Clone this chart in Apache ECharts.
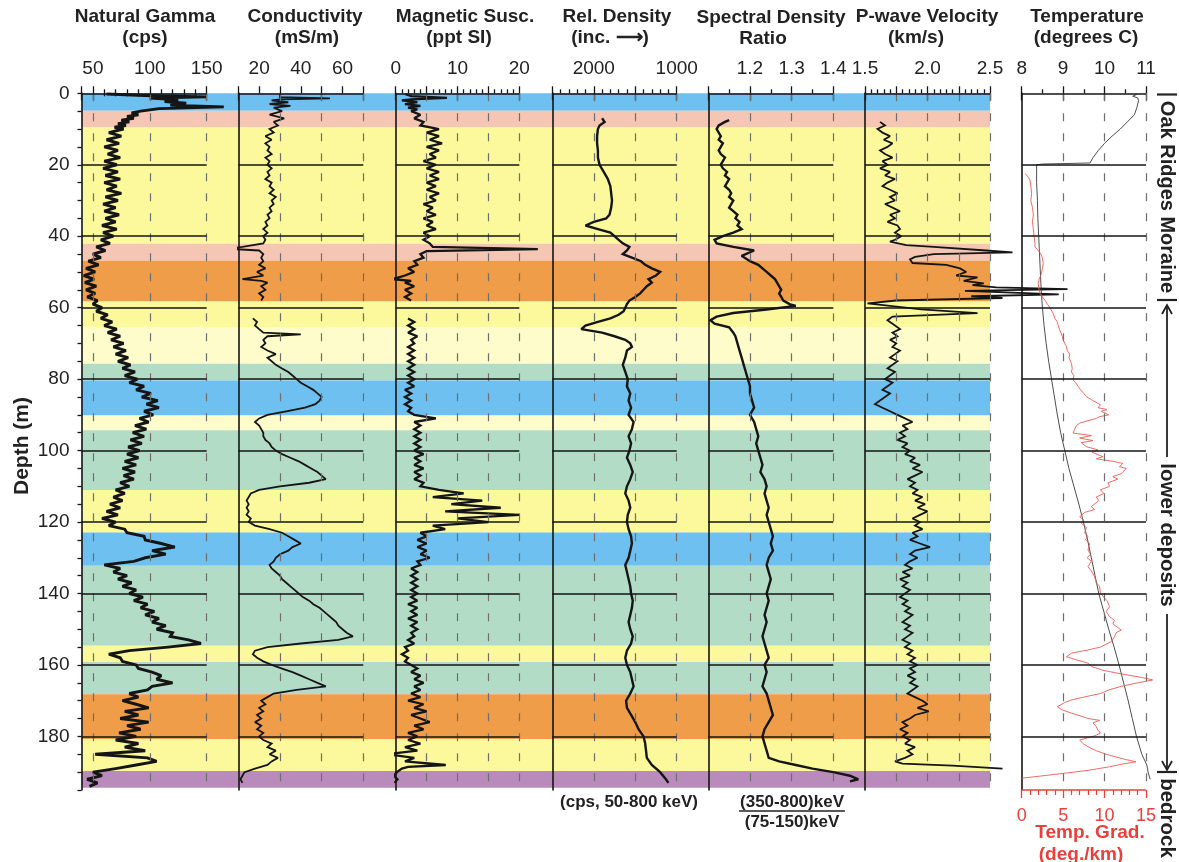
<!DOCTYPE html>
<html><head><meta charset="utf-8">
<script src="https://cdn.jsdelivr.net/npm/echarts@6/dist/echarts.min.js"></script>
<style>html,body{margin:0;padding:0;background:#fff}#c{width:1179px;height:862px}</style>
</head><body><div id="c"></div>
<script>
// ---------------- DATA (depth in m, value) ----------------
const bandFrom = [0, 4.9, 9.6, 42.1, 46.9, 58.3, 65.5, 75.7, 80.4, 90.2, 94.3, 111, 122.9, 132.2, 154.6, 159.2, 168.2, 180.7, 189.7];
const bandTo   = [4.9, 9.6, 42.1, 46.9, 58.3, 65.5, 75.7, 80.4, 90.2, 94.3, 111, 122.9, 132.2, 154.6, 159.2, 168.2, 180.7, 189.7, 194.4];
const bandKind = ['blue','pink','yellow','pink','orange','yellow','pale','green','blue','pale','green','yellow','blue','green','yellow','green','orange','yellow','purple'];

const depthLines = [20, 40, 60, 80, 100, 120, 140, 160, 180];
const depthTickVals = [0,5,10,15,20,25,30,35,40,45,50,55,60,65,70,75,80,85,90,95,100,105,110,115,120,125,130,135,140,145,150,155,160,165,170,175,180,185,190,195];
const depthLabels = [0, 20, 40, 60, 80, 100, 120, 140, 160, 180];

const gammaLabels = [50, 100, 150];
const condLabels = [20, 40, 60];
const magLabels = [0, 10, 20];
const densLabels = [2000, 1000];
const specLabels = [1.2, 1.3, 1.4];
const pwLabels = [1.5, 2.0, 2.5];
const tempLabels = [8, 9, 10, 11];
const gradLabels = [0, 5, 10, 15];

const gamma = [[0.2,62],[0.6,95],[1,150],[1.3,100],[1.8,125],[2.3,113],[2.8,132],[3.3,118],[3.8,165],[4.3,108],[5,92],[5.5,84],[6,90],[6.5,80],[7,86],[7.5,75],[8,82],[8.5,72],[9,79],[9.5,69],[10,77],[11,64],[12,75],[13,62],[14,73],[15,60],[16,72],[17,63],[18,74],[19,60],[20,71],[21,59],[22,72],[23,61],[24,74],[25,60],[26,71],[27,62],[28,75],[29,61],[30,72],[31,59],[32,70],[33,60],[34,73],[35,61],[36,70],[37,58],[38,71],[39,59],[40,68],[41,57],[42,65],[43,53],[44,61],[45,50],[46,57],[47,46],[48,55],[49,44],[50,52],[51,42],[52,51],[53,43],[54,53],[55,44],[56,52],[57,45],[58,54],[59,50],[60,58],[61,53],[62,63],[63,57],[64,67],[65,60],[66,71],[67,63],[68,74],[69,66],[70,77],[71,68],[72,79],[73,70],[74,81],[75,72],[76,83],[77,76],[78,87],[79,78],[80,89],[81,82],[82,95],[83,88],[84,101],[85,93],[86,107],[87,97],[88,108],[89,95],[90,103],[91,91],[92,99],[93,87],[94,97],[95,85],[96,95],[97,83],[98,93],[99,81],[100,91],[101,80],[102,90],[103,78],[104,88],[105,76],[106,87],[107,77],[108,86],[109,74],[110,82],[111,70],[112,78],[113,68],[114,76],[115,65],[116,74],[117,62],[118,72],[119,58],[120,70],[121,64],[122,78],[123,80],[124,95],[125,96],[126,110],[127,122],[128,102],[129,114],[130,96],[131,86],[132,60],[133,74],[134,68],[135,80],[136,72],[137,84],[138,76],[139,88],[140,82],[141,94],[142,86],[143,98],[144,92],[145,104],[146,96],[147,108],[148,102],[149,114],[150,106],[151,120],[152,118],[153,134],[154,145],[155,116],[156,82],[157,64],[158,74],[159,76],[160,88],[161,90],[162,102],[163,110],[164,106],[165,120],[166,102],[167,98],[168,82],[169,90],[170,76],[171,88],[172,99],[173,78],[174,90],[175,74],[176,99],[177,80],[178,92],[179,73],[180,88],[181,70],[182,90],[183,78],[184,96],[185,52],[186,98],[187,106],[188,88],[189,70],[190,50],[191,58],[192,45],[193,54],[194,47]];

const cond = [[0.2,30],[1.1,30],[1.4,54],[1.7,30],[2,26],[2.5,34],[3,25],[3.5,35],[4,27],[5,31],[6,25],[7,32],[8,27],[9,29],[10,25],[11,27],[12,23],[13,26],[14,23],[15,25],[16,24],[17,26],[18,23],[19,25],[20,24],[21,26],[22,24],[23,25],[24,23],[25,26],[26,25],[27,27],[28,25],[29,28],[30,26],[31,27],[32,25],[33,26],[34,24],[35,25],[36,23],[37,24],[38,22],[39,24],[40,22],[41,23],[42,22],[43,12],[43.5,5],[44,20],[45,22],[46,21],[47,22],[48,20],[49,23],[50,19],[51,22],[52,12],[52.5,21],[53,24],[54,21],[55,23],[56,20],[57,22],[58,21],[60,null],[63,17],[64,19],[65,18],[66,20],[67,22],[67.5,40],[68,24],[69,22],[70,23],[71,21],[72,24],[73,28],[74,24],[75,26],[76,28],[77,31],[78,34],[79,36],[80,38],[81,40],[82,43],[83,46],[84,48],[85,50],[86,49],[87,47],[88,42],[89,33],[90,24],[91,20],[92,18],[93,20],[94,21],[95,22],[96,22],[97,23],[98,25],[99,26],[100,28],[101,31],[102,35],[103,39],[104,42],[105,45],[106,48],[107,50],[108,52],[109,44],[110,30],[111,20],[112,16],[113,15],[114,14],[115,15],[116,14],[117,15],[118,14],[119,16],[120,15],[121,18],[122,25],[123,31],[124,34],[125,37],[126,40],[127,36],[128,34],[129,30],[130,28],[131,27],[132,25],[133,26],[134,28],[135,30],[136,31],[137,33],[138,35],[139,37],[140,39],[141,41],[142,44],[143,46],[144,49],[145,51],[146,53],[147,55],[148,57],[149,58],[150,60],[151,62],[152,65],[153,58],[154,40],[155,24],[156,18],[157,17],[158,19],[159,22],[160,26],[161,31],[162,36],[163,40],[164,44],[165,48],[166,52],[167,38],[168,27],[169,24],[170,21],[171,23],[172,20],[173,22],[174,19],[175,21],[176,18],[177,21],[178,19],[179,22],[180,20],[181,22],[182,26],[183,24],[184,28],[185,25],[186,29],[187,26],[188,24],[189,18],[190,13],[191,12],[192,11],[193,12]];

const mag = [[0.2,1.5],[0.8,2.5],[1.3,8.3],[1.7,2.5],[2,1],[2.5,3.5],[3,1.5],[3.5,4],[4,2],[4.5,3.5],[5,2.5],[6,4],[7,3],[8,4.5],[9,4],[10,7],[11,5],[12,7],[13,5.5],[14,7.5],[15,5],[16,7],[17,5.5],[18,6.5],[19,4.5],[20,6.5],[21,5],[22,7],[23,5.5],[24,7],[25,5],[26,6.5],[27,5],[28,7],[29,5.5],[30,6.5],[31,4.5],[32,6],[33,5],[34,6.5],[35,4.5],[36,6],[37,5],[38,6.5],[39,4.5],[40,5.5],[41,4.5],[42,5.5],[43,6],[43.6,23],[44.2,5],[45,4],[46,4.5],[47,3],[48,3.5],[49,2],[50,3],[51,1.5],[52,-0.5],[52.5,2.5],[53,1.5],[54,3],[55,1.5],[56,2.5],[57,1.5],[58,2.5],[60,null],[63,2],[64,3],[65,2],[66,3],[67,2],[68,3.5],[69,2.5],[70,3],[71,2],[72,3],[73,2],[74,3],[75,2],[76,3],[77,2],[78,3],[79,2],[80,3],[81,2],[82,3],[83,1.5],[84,2.5],[85,1.5],[86,2.5],[87,1.5],[88,2.5],[89,2],[90,3],[91,6.5],[92,3],[93,4],[94,3],[95,4],[96,3],[97,4],[98,3],[99,4],[100,3],[101,4.5],[102,3],[103,4],[104,3],[105,4.5],[106,3],[107,4],[108,3],[109,4.5],[110,4],[111,7],[112,11],[113,6],[114,14],[115,9],[116,17],[117,8],[118,20],[119,10],[120,15],[121,6],[122,8],[123,4],[124,5],[125,3.5],[126,5],[127,3.5],[128,5],[129,4],[130,5.5],[131,3.5],[132,4],[133,2.5],[134,3.5],[135,2.5],[136,3.5],[137,2.5],[138,3.5],[139,2.5],[140,3.5],[141,2.5],[142,3.5],[143,2],[144,3.5],[145,2.5],[146,3.5],[147,2],[148,3.5],[149,2.5],[150,3.5],[151,2.5],[152,3],[153,2],[154,3],[155,1.5],[156,2],[157,1],[158,2],[159,1.5],[160,2.5],[161,3.5],[162,2.5],[163,4],[164,3],[165,4.5],[166,3],[167,4],[168,2.5],[169,4],[170,2],[171,4.5],[172,3],[173,5],[174,2.5],[175,4],[176,5.5],[177,3],[178,4.5],[179,2],[180,3.5],[181,2],[182,4],[183,1.5],[184,3.5],[185,-1.4],[186,3],[187,1.5],[188,8.1],[188.5,2],[189,1],[190,0.2],[191,-0.3],[192,0.3],[193,-0.2]];

const dens = [[7,1900],[8,1870],[9,1930],[10,1950],[12,1960],[14,1960],[16,1950],[18,1950],[20,1930],[22,1880],[24,1830],[26,1800],[28,1790],[30,1780],[32,1790],[34,1810],[35,1850],[36,2000],[37,2100],[38,1950],[39,1800],[40,1750],[41,1700],[42,1650],[43,1570],[44,1600],[45,1650],[46,1540],[47,1430],[48,1380],[49,1300],[50,1200],[51,1250],[52,1340],[53,1300],[54,1360],[55,1400],[56,1440],[57,1500],[58,1570],[59,1600],[60,1620],[61,1640],[62,1700],[63,1800],[64,1950],[65,2100],[66,2150],[67,1900],[68,1750],[69,1620],[70,1560],[71,1540],[72,1600],[74,1620],[76,1650],[78,1620],[80,1590],[82,1600],[84,1560],[86,1580],[88,1550],[90,1580],[92,1520],[94,1540],[96,1580],[98,1550],[100,1570],[102,1600],[104,1560],[106,1530],[108,1560],[110,1600],[112,1620],[114,1580],[116,1560],[118,1590],[120,1600],[122,1580],[124,1550],[126,1540],[128,1560],[130,1580],[132,1620],[134,1600],[136,1580],[138,1560],[140,1550],[142,1530],[144,1540],[146,1560],[148,1580],[150,1560],[152,1530],[154,1550],[156,1600],[158,1620],[160,1600],[162,1560],[164,1540],[166,1520],[168,1560],[170,1610],[172,1600],[174,1550],[176,1500],[178,1460],[180,1400],[182,1380],[184,1370],[186,1360],[188,1300],[190,1200],[192,1130],[193,1100]];

const spec = [[7.5,1.15],[8,1.14],[9,1.125],[10,1.12],[11,1.125],[12,1.13],[13,1.125],[14,1.135],[15,1.13],[16,1.125],[17,1.13],[18,1.14],[19,1.135],[20,1.13],[21,1.135],[22,1.145],[23,1.14],[24,1.15],[25,1.145],[26,1.14],[27,1.15],[28,1.155],[29,1.15],[30,1.16],[31,1.155],[32,1.15],[33,1.16],[34,1.17],[35,1.165],[36,1.175],[37,1.17],[38,1.18],[39,1.16],[40,1.135],[41,1.115],[42,1.12],[43,1.16],[44,1.21],[45.5,1.18],[47,1.2],[48,1.22],[49,1.23],[50,1.24],[51,1.25],[52,1.26],[53,1.265],[54,1.27],[55,1.275],[56,1.27],[57,1.275],[58,1.28],[59,1.295],[59.5,1.31],[60.5,1.24],[61.5,1.16],[62.5,1.12],[63.5,1.105],[64.5,1.115],[65.5,1.15],[67,1.16],[68,1.165],[70,1.17],[72,1.175],[74,1.18],[76,1.185],[78,1.19],[80,1.195],[82,1.2],[84,1.2],[86,1.205],[88,1.21],[90,1.2],[92,1.21],[94,1.215],[96,1.22],[98,1.215],[100,1.22],[102,1.225],[104,1.23],[106,1.225],[108,1.235],[110,1.24],[112,1.235],[114,1.24],[116,1.245],[118,1.24],[120,1.245],[122,1.25],[124,1.255],[126,1.25],[128,1.255],[130,1.245],[132,1.24],[134,1.245],[136,1.25],[138,1.245],[140,1.24],[142,1.245],[144,1.24],[146,1.235],[148,1.24],[150,1.235],[152,1.23],[154,1.235],[156,1.24],[158,1.245],[160,1.235],[162,1.24],[164,1.235],[166,1.23],[168,1.24],[170,1.245],[172,1.25],[174,1.255],[176,1.245],[178,1.235],[180,1.23],[182,1.235],[184,1.24],[186,1.245],[187,1.27],[188,1.31],[189,1.35],[190,1.4],[191,1.44],[192,1.46],[192.6,1.44]];

const pwave = [[8,1.62],[9,1.66],[10,1.6],[11,1.64],[12,1.7],[13,1.65],[14,1.72],[15,1.68],[16,1.62],[17,1.66],[18,1.72],[19,1.64],[20,1.68],[21,1.62],[22,1.7],[23,1.66],[24,1.74],[25,1.68],[26,1.64],[27,1.7],[28,1.76],[29,1.7],[30,1.74],[31,1.66],[32,1.72],[33,1.78],[34,1.7],[35,1.74],[36,1.68],[37,1.76],[38,1.78],[39,1.74],[40,1.79],[41,1.74],[41.5,1.7],[42.5,1.83],[43,2.05],[44,2.47],[44.5,2.68],[45,2.05],[45.8,1.9],[46.5,1.86],[47.5,1.88],[48,2.15],[49,2.26],[50,2.31],[51,2.23],[51.5,2.4],[52.5,2.29],[53.2,2.45],[53.7,2.36],[54.3,2.55],[54.8,3.12],[55.3,2.3],[56.3,3.05],[56.8,2.35],[57.3,2.6],[58,1.75],[58.8,1.52],[59.5,1.7],[60.5,1.95],[61.5,2.4],[62.5,1.72],[63.5,1.68],[64.5,1.72],[66,1.78],[67,1.72],[68,1.76],[69,1.7],[70,1.75],[71,1.72],[72,1.78],[73,1.74],[74,1.7],[75,1.76],[76,1.72],[77,1.68],[78,1.74],[79,1.7],[80,1.66],[81,1.72],[82,1.68],[83,1.64],[84,1.7],[85,1.66],[86,1.62],[87,1.58],[88,1.64],[89,1.7],[90,1.76],[91,1.82],[92,1.88],[93,1.8],[94,1.84],[95,1.78],[96,1.82],[97,1.76],[98,1.84],[99,1.8],[100,1.86],[101,1.82],[102,1.9],[103,1.86],[104,1.94],[105,1.88],[106,1.96],[107,1.9],[108,1.84],[109,1.9],[110,1.86],[111,1.92],[112,1.88],[113,1.96],[114,1.9],[115,1.98],[116,1.92],[117,2.0],[118,1.94],[119,1.88],[120,1.94],[121,1.9],[122,1.96],[123,1.88],[124,1.92],[125,1.86],[126,1.94],[127,2.02],[128,1.9],[129,1.86],[130,1.92],[131,1.86],[132,1.82],[133,1.88],[134,1.8],[135,1.86],[136,1.78],[137,1.84],[138,1.8],[139,1.86],[140,1.82],[141,1.78],[142,1.84],[143,1.8],[144,1.86],[145,1.82],[146,1.88],[147,1.84],[148,1.8],[149,1.86],[150,1.82],[151,1.88],[152,1.84],[153,1.8],[154,1.86],[155,1.82],[156,1.88],[157,1.84],[158,1.9],[159,1.86],[160,1.92],[161,1.86],[162,1.9],[163,1.84],[164,1.9],[165,1.86],[166,1.92],[167,1.88],[168,1.84],[169,1.9],[170,1.96],[171,2.0],[172,1.92],[173,2.01],[174,1.9],[175,1.86],[176,1.8],[177,1.84],[178,1.78],[179,1.84],[180,1.8],[181,1.86],[182,1.82],[183,1.9],[184,1.84],[185,1.88],[186,1.82],[187,1.74],[187.6,1.8],[188.2,2.2],[189,2.6]];

const temp = [[0.3,10.78],[0.8,10.68],[1.3,10.8],[2,10.82],[4,10.78],[6,10.72],[8,10.55],[10,10.38],[12,10.18],[14,10.0],[16,9.85],[18,9.72],[19.5,9.65],[19.8,8.5],[20,8.36],[25,8.36],[30,8.38],[35,8.39],[40,8.41],[45,8.43],[50,8.45],[55,8.47],[60,8.5],[65,8.54],[70,8.59],[75,8.65],[80,8.72],[85,8.79],[90,8.86],[95,8.94],[100,9.04],[105,9.14],[110,9.26],[115,9.38],[120,9.49],[125,9.59],[130,9.68],[135,9.77],[140,9.86],[145,9.98],[150,10.1],[155,10.23],[160,10.35],[165,10.46],[170,10.57],[175,10.67],[180,10.77],[185,10.9],[188,11.02],[190,11.05],[192,11.1]];

const grad = [[22.4,0.4],[23.5,0.8],[24.3,1.0],[26,1.1],[28,1.2],[30,1.1],[32,1.3],[34,1.4],[36,1.3],[38,1.4],[40,1.5],[42,1.6],[43,1.6],[44,2.0],[45,2.3],[46,2.5],[47.6,2.6],[49,2.5],[50.4,2.4],[52,2.1],[53.2,2.0],[55,2.1],[56,2.2],[57,2.5],[57.9,2.8],[59,3.1],[60,3.4],[61.6,3.8],[63,4.0],[64,4.3],[65,4.4],[66.3,4.6],[68,4.9],[69,5.0],[70.9,5.4],[72,5.5],[73,5.8],[74,5.7],[75.6,6.0],[77,6.1],[78,6.0],[79,6.3],[80.2,6.2],[81,6.5],[82,6.8],[83,7.1],[84,7.5],[84.9,7.8],[86,8.6],[87.2,9.5],[88,9.2],[88.5,10.3],[89,9.6],[89.5,9.8],[90,10.5],[90.5,9.4],[91,9.0],[92.3,7.0],[93,6.6],[94,6.4],[95.1,6.2],[95.8,8.4],[96.5,7.0],[97.2,8.6],[97.8,7.2],[98.9,7.8],[99.8,9.2],[100.5,8.5],[101.7,9.8],[102.3,9.0],[103,11.0],[103.6,12.2],[104.5,11.8],[105,12.6],[106.4,12.1],[107.3,11.0],[108,11.6],[109,10.4],[110,10.6],[111,9.5],[112,9.9],[113,9.0],[114,9.3],[115.7,8.4],[116.5,8.8],[117.3,7.6],[118.5,7.0],[119.5,7.5],[120.4,7.2],[121.5,7.8],[123.1,7.6],[124,8.0],[125,7.7],[126,8.2],[127.8,8.0],[129,8.3],[130,7.9],[131,8.4],[132.5,8.0],[134,8.5],[135.3,8.8],[137,9.0],[138,9.4],[139.9,9.5],[141,9.9],[142,10.3],[143.7,10.6],[145,10.2],[146.5,10.6],[147.5,11.2],[148.5,11.0],[150.2,12.0],[151,11.4],[152.1,11.2],[153.5,10.8],[155,9.5],[155.8,8.0],[156.7,6.0],[157.7,5.4],[158.5,6.5],[159.5,8.0],[160.4,8.4],[161.5,9.8],[162.5,12.0],[163.5,14.5],[164.2,15.8],[165,14.0],[166,12.0],[167,10.5],[168,9.5],[169,7.5],[169.8,6.0],[170.5,5.2],[171.7,4.3],[172.5,4.8],[173.5,6.0],[174.5,7.4],[175,8.0],[175.5,9.4],[176.2,8.6],[177.3,9.0],[178.2,9.2],[179.1,9.5],[180,8.6],[181,7.0],[182,7.4],[182.9,8.0],[184,9.0],[185,10.2],[185.7,11.3],[186.5,12.6],[187.1,13.8],[187.8,12.0],[188.5,10.6],[189.5,8.0],[190.5,4.5],[191.3,1.5],[191.7,0]];

// ---------------- STYLE / LAYOUT ----------------
const FONT = '"Liberation Sans", Arial, Helvetica, sans-serif';
const bandColors = {blue:'#6dc0ef', pink:'#f5c6b3', yellow:'#fbf99b', orange:'#ef9d49', pale:'#fdfcca', green:'#b3dcc7', purple:'#b98bbb'};
const TOP = 93.3, HEIGHT = 696.7, DMAX = 195;
const INK = '#151515';
const RED = '#e8413b';

const range = (a, b, s) => { const r = []; for (let v = a; v <= b + 1e-9; v += s) r.push(+v.toFixed(3)); return r; };
const without = (arr, ex) => arr.filter(v => !ex.some(e => Math.abs(e - v) < 1e-6));
const plain = v => String(+(+v).toFixed(3));

const panels = [
  {left:81.5, width:125.2, padR:31, min:40, max:150, labels:gammaLabels, outMajor:[40,50,100,150], outMinor:without(range(40,150,10),[40,50,100,150]), inMajor:[40,50,100,150], inMinor:without(range(40,150,10),[40,50,100,150]), dashed:[50,100,150], depth:true, data:gamma, lw:2.9},
  {left:238.3, width:125, padR:31.5, min:10, max:70, labels:condLabels, outMajor:range(10,70,10), inMajor:[10,30,50,70], dashed:[30,50,70], data:cond, lw:1.8},
  {left:395.7, width:123.6, padR:32, min:0, max:20, labels:magLabels, outMajor:[0,5,10,15,20], outMinor:without(range(0,20,1),[0,5,10,15,20]), inMajor:[0,10,20], dashed:[5,10,15,20], data:mag, lw:2.3},
  {left:552.3, width:124.4, padR:31.5, min:1000, max:2500, inverse:true, labels:densLabels, outMajor:[1000,1500,2000,2500], outMinor:without(range(1000,2500,100),[1000,1500,2000,2500]), inMajor:[1000,1500,2000,2500], dashed:[2000,1500,1000], data:dens, lw:2.4},
  {left:708.3, width:125, padR:31.7, min:1.1, max:1.4, labels:specLabels, outMajor:[1.1,1.2,1.3,1.4], outMinor:[1.15,1.25,1.35], inMajor:[1.1,1.2,1.3,1.4], dashed:[1.2,1.3,1.4], data:spec, lw:2.4, fmt:v=>(+v).toFixed(1)},
  {left:865, width:125, padR:110, min:1.5, max:2.5, labels:pwLabels, outMajor:[1.5,1.75,2,2.25,2.5], outMinor:without(range(1.5,2.5,0.05),[1.5,1.75,2,2.25,2.5]), inMajor:[1.5,2,2.5], dashed:[1.75,2,2.25,2.5], data:pwave, lw:1.8, fmt:v=>(+v).toFixed(1)},
  {left:1021.7, width:124.3, padR:12, min:8, max:11, labels:tempLabels, outMajor:[8,9,10,11], outMinor:[8.5,9.5,10.5], inMajor:[8,9,10,11], dashed:[9,10,11], data:temp, lw:0.9, color:'#3a3a3a', temp:true}
];

const grids = [{left:81.5, top:TOP, width:908.5, height:HEIGHT}];
const xAxes = [{gridIndex:0, type:'value', min:0, max:1, show:false}];
const yAxes = [{gridIndex:0, type:'value', min:0, max:DMAX, inverse:true, show:false}];
const series = [{
  type:'line', xAxisIndex:0, yAxisIndex:0, data:[], z:1, silent:true,
  markArea:{silent:true, itemStyle:{opacity:1, borderWidth:0},
    data: bandFrom.map((f, i) => [{yAxis:f, itemStyle:{color:bandColors[bandKind[i]], opacity:1}}, {yAxis:bandTo[i]}])}
}];

const tickStyle = {color:INK, width:1.3};
const seg = (x1, y1, x2, y2, style) => [{coord:[x1, y1], lineStyle:style}, {coord:[x2, y2]}];

panels.forEach((p) => {
  const g = grids.length;
  grids.push({left:p.left, top:TOP, width:p.width + p.padR, height:HEIGHT});
  const s = (p.max - p.min) / p.width;
  let xmin = p.min, xmax = p.max;
  if (p.inverse) xmin = p.min - p.padR * s; else xmax = p.max + p.padR * s;
  const yi = yAxes.length;
  yAxes.push({gridIndex:g, type:'value', min:0, max:DMAX, inverse:true, z:3,
    axisLine:{show:true, onZero:false, lineStyle:{color:INK, width:1.6}},
    axisTick: p.depth ? {show:true, customValues:depthTickVals, length:4, lineStyle:tickStyle} : {show:false},
    axisLabel: p.depth ? {show:true, customValues:depthLabels, margin:12, fontSize:19, color:'#222', fontFamily:FONT} : {show:false},
    splitLine:{show:false}});
  const base = {gridIndex:g, type:'value', min:xmin, max:xmax, inverse:!!p.inverse, position:'top', z:3, splitLine:{show:false}};
  const xi = xAxes.length;
  xAxes.push(Object.assign({}, base, {
    axisLine:{show:false, onZero:false},
    axisTick:{show:true, customValues:p.outMajor, length:7, inside:false, lineStyle:tickStyle},
    axisLabel:{show:true, customValues:p.labels, margin:15, fontSize:19, color:'#222', fontFamily:FONT, formatter:p.fmt || plain}
  }));
  [[p.outMinor, 4, false], [p.inMajor, 7, true], [p.inMinor, 3, true]].forEach(([vals, len, inside]) => {
    if (!vals || !vals.length) return;
    xAxes.push(Object.assign({}, base, {axisLine:{show:false, onZero:false},
      axisTick:{show:true, customValues:vals, length:len, inside:inside, lineStyle:tickStyle}, axisLabel:{show:false}}));
  });
  const solid = {color:INK, width:1.6, type:'solid'};
  series.push({type:'line', xAxisIndex:xi, yAxisIndex:yi, data:[], z:2, silent:true,
    markLine:{silent:true, symbol:['none','none'], label:{show:false},
      data:[...p.dashed.map(v => ({xAxis:v, lineStyle:{color:'#6e6e6e', width:1.2, type:[8,12]}})),
            seg(p.min, 0, p.max, 0, solid),
            ...depthLines.map(d => seg(p.min, d, p.max, d, solid))]}});
  series.push({type:'line', xAxisIndex:xi, yAxisIndex:yi, data:p.data.map(([d, v]) => [v, d]),
    showSymbol:false, symbol:'none', clip:false, z:4, silent:true, connectNulls:false,
    lineStyle:{color:p.color || INK, width:p.lw, join:'miter', miterLimit:2}});
  if (p.temp) {
    const gs = 15 / p.width;
    const gmax = 15 + p.padR * gs;
    const gi = xAxes.length;
    xAxes.push({gridIndex:g, type:'value', min:0, max:gmax, position:'bottom', z:3, splitLine:{show:false},
      axisLine:{show:false, onZero:false},
      axisTick:{show:true, customValues:gradLabels, length:8, lineStyle:{color:RED, width:1.3}},
      axisLabel:{show:true, customValues:gradLabels, margin:17, fontSize:18, color:RED, fontFamily:FONT, formatter:plain}});
    xAxes.push({gridIndex:g, type:'value', min:0, max:gmax, position:'bottom', z:3, splitLine:{show:false},
      axisLine:{show:false, onZero:false},
      axisTick:{show:true, customValues:without(range(0,15,1),gradLabels), length:5, lineStyle:{color:RED, width:1.2}},
      axisLabel:{show:false}});
    series.push({type:'line', xAxisIndex:gi, yAxisIndex:yi, data:grad.map(([d, v]) => [v, d]),
      showSymbol:false, symbol:'none', clip:false, z:4, silent:true, lineStyle:{color:'#ee5a55', width:0.9},
      markLine:{silent:true, symbol:['none','none'], label:{show:false},
        data:[seg(0, DMAX, 15, DMAX, {color:RED, width:1.6, type:'solid'})]}});
  }
});

function T(text, x, y, size, opt) {
  opt = opt || {};
  return {type:'text', x:x, y:y, rotation:opt.rot || 0, z:20, silent:true,
    style:{text:text, font:(opt.bold === false ? '' : 'bold ') + size + 'px ' + FONT, fill:opt.color || '#222',
      textAlign:'center', textVerticalAlign:'middle', align:'center', verticalAlign:'middle'}};
}
function L(x1, y1, x2, y2, w, c) {
  return {type:'line', z:20, silent:true, shape:{x1, y1, x2, y2}, style:{stroke:c || '#222', lineWidth:w || 2}};
}
function P(pts, w) {
  return {type:'polyline', z:20, silent:true, shape:{points:pts}, style:{stroke:'#222', lineWidth:w || 2, fill:null}};
}
const graphics = [
  T('Natural Gamma', 145, 17, 19), T('(cps)', 145, 38, 19),
  T('Conductivity', 305, 17, 19), T('(mS/m)', 307, 38, 19),
  T('Magnetic Susc.', 465, 17, 19), T('(ppt SI)', 459, 38, 19),
  T('Rel. Density', 617, 17, 19), T('(inc. \u27F6)', 610, 38, 19),
  T('Spectral Density', 771, 18, 19), T('Ratio', 763, 39, 19),
  T('P-wave Velocity', 927, 17, 19), T('(km/s)', 916, 38, 19),
  T('Temperature', 1087, 17, 19), T('(degrees C)', 1086, 38, 19),
  T('Depth (m)', 22, 446, 21, {rot:Math.PI/2}),
  T('(cps, 50-800 keV)', 629, 802, 17),
  T('(350-800)keV', 792, 802, 17), L(739, 811, 845, 811, 1.3),
  T('(75-150)keV', 792, 822, 17),
  T('Temp. Grad.', 1090, 833, 19, {color:RED}),
  T('(deg./km)', 1081, 855, 19, {color:RED}),
  T('Oak Ridges Moraine', 1167, 197, 20, {rot:-Math.PI/2}),
  T('lower deposits', 1167, 535, 20.5, {rot:-Math.PI/2}),
  T('bedrock', 1167, 818, 20.5, {rot:-Math.PI/2}),
  L(1157, 94.5, 1177, 94.5, 2.2), L(1157, 300, 1177, 300, 2.2),
  L(1167, 305, 1167, 457, 1.8), P([[1162, 314], [1167, 305], [1172, 314]], 1.8),
  L(1167, 614, 1167, 770, 1.8), P([[1162, 761], [1167, 770], [1172, 761]], 1.8),
  L(1157, 772, 1177, 772, 2.2)
];

const chart = echarts.init(document.getElementById('c'), null, {renderer:'canvas'});
chart.setOption({
  animation:false,
  backgroundColor:'#ffffff',
  grid:grids, xAxis:xAxes, yAxis:yAxes, series:series, graphic:graphics
});
</script>
</body></html>
